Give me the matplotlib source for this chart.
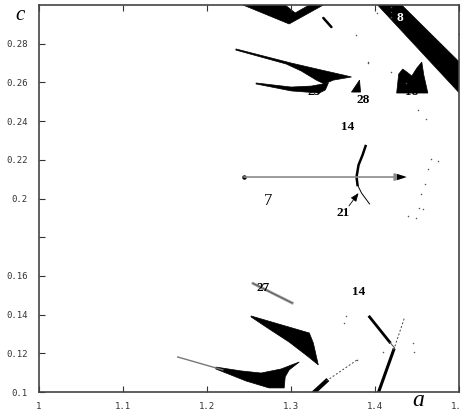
import matplotlib
matplotlib.use("Agg")
import matplotlib.pyplot as plt
from matplotlib.patches import Polygon

# ---- parameter-plane regions (a, c) ----
top_cusp = [(1.2428, 0.3000), (1.2978, 0.2902), (1.3086, 0.2928), (1.3385, 0.3000),
            (1.3218, 0.3000), (1.3050, 0.2959), (1.2931, 0.3000)]
long_wedge = [(1.2344, 0.2773), (1.3002, 0.2700), (1.3361, 0.2664), (1.3624, 0.2638),
              (1.3720, 0.2628), (1.3505, 0.2612), (1.3397, 0.2592), (1.3301, 0.2612),
              (1.3122, 0.2659), (1.2943, 0.2695), (1.2344, 0.2767)]
wedge_25 = [(1.2584, 0.2597), (1.3002, 0.2576), (1.3242, 0.2581), (1.3445, 0.2597),
            (1.3409, 0.2561), (1.3337, 0.2545), (1.3002, 0.2556), (1.2584, 0.2592)]
tri_28 = [(1.3720, 0.2550), (1.3816, 0.2612), (1.3828, 0.2550)]
band_8 = [(1.4031, 0.3000), (1.4318, 0.3000), (1.5000, 0.2707), (1.5000, 0.2547)]
region_18 = [(1.4258, 0.2545), (1.4282, 0.2643), (1.4330, 0.2669), (1.4378, 0.2654),
             (1.4438, 0.2633), (1.4498, 0.2674), (1.4557, 0.2705), (1.4581, 0.2638),
             (1.4629, 0.2545)]
wedge_low1 = [(1.2524, 0.1393), (1.3218, 0.1305), (1.3266, 0.1253), (1.3325, 0.1140),
              (1.3194, 0.1186), (1.2978, 0.1258), (1.2703, 0.1336), (1.2524, 0.1388)]
wedge_low2 = [(1.2105, 0.1129), (1.2404, 0.1109), (1.2644, 0.1098), (1.2883, 0.1119),
              (1.3098, 0.1155), (1.2978, 0.1114), (1.2931, 0.1078), (1.2919, 0.1021),
              (1.2739, 0.1021), (1.2464, 0.1057), (1.2105, 0.1119)]

# thin curves / line segments
dash_top_a, dash_top_c = [1.3385, 1.3481], [0.2933, 0.2886]
tail_low2_a, tail_low2_c = [1.1651, 1.2189], [0.1181, 0.1114]
streak_27_a, streak_27_c = [1.2548, 1.3014], [0.1561, 0.1460]
curve21_thick_a = [1.3888, 1.3852, 1.3804, 1.3780, 1.3792]
curve21_thick_c = [0.2271, 0.2225, 0.2173, 0.2111, 0.2070]
curve21_thin_a = [1.3792, 1.3840, 1.3935]
curve21_thin_c = [0.2070, 0.2028, 0.1972]
diag1_a, diag1_c = [1.3278, 1.3421], [0.1000, 0.1057]
diag1_dot_a, diag1_dot_c = [1.3421, 1.3804], [0.1057, 0.1171]
diag2_a, diag2_c = [1.4043, 1.4222], [0.1000, 0.1217]
diag2_dot_a, diag2_dot_c = [1.4222, 1.4354], [0.1217, 0.1388]
diag3_a, diag3_c = [1.3935, 1.4175], [0.1388, 0.1258]
diag3_thin_a, diag3_thin_c = [1.4175, 1.4234], [0.1258, 0.1227]

# isolated points
dots_a = [1.4186, 1.4186, 1.4186, 1.5000, 1.4019, 1.3768, 1.3911, 1.4187, 1.4366,
          1.3911, 1.4510, 1.4605, 1.4665, 1.4629, 1.4593, 1.4546, 1.4522, 1.4570,
          1.4749, 1.4390, 1.4486, 1.3660, 1.3625, 1.4091, 1.3780, 1.4450, 1.4462]
dots_c = [0.2990, 0.2964, 0.2938, 0.2850, 0.2959, 0.2845, 0.2700, 0.2654, 0.2597,
          0.2705, 0.2457, 0.2411, 0.2204, 0.2152, 0.2075, 0.2024, 0.1952, 0.1946,
          0.2196, 0.1910, 0.1899, 0.1393, 0.1357, 0.1207, 0.1165, 0.1253, 0.1207]

# arrow across the plane
arrow_a, arrow_c = [1.2440, 1.4378], [0.2111, 0.2111]

# region labels: (text, a, c, bold, colour)
labels = [("8", 1.4294, 0.2933, True, "white"),
          ("25", 1.3278, 0.2552, True, "black"),
          ("28", 1.3864, 0.2509, True, "black"),
          ("18", 1.4438, 0.2552, True, "black"),
          ("14", 1.3672, 0.2370, True, "black"),
          ("21", 1.3624, 0.1925, True, "black"),
          ("27", 1.2667, 0.1540, True, "black"),
          ("14", 1.3804, 0.1517, True, "black")]
label_7 = ("7", 1.2727, 0.1985)

x_ticks = [1.0, 1.1, 1.2, 1.3, 1.4, 1.5]
x_ticklabels = ["1", "1.1", "1.2", "1.3", "1.4", "1.5"]
y_ticks = [0.10, 0.12, 0.14, 0.16, 0.18, 0.20, 0.22, 0.24, 0.26, 0.28]
y_ticklabels = ["0.1", "0.12", "0.14", "0.16", "", "0.2", "0.22", "0.24", "0.26", "0.28"]

fig = plt.figure(figsize=(4.61, 4.13), dpi=100)
ax = fig.add_axes([39 / 461, 1 - 392 / 413, 420 / 461, 387 / 413])
ax.set_xlim(1.0, 1.5)
ax.set_ylim(0.1, 0.3)

for poly in [top_cusp, long_wedge, wedge_25, tri_28, band_8, region_18, wedge_low1, wedge_low2]:
    ax.add_patch(Polygon(poly, closed=True, facecolor="black", edgecolor="black", lw=0.5))

ax.plot(dash_top_a, dash_top_c, color="black", lw=1.8, solid_capstyle="round")
ax.plot(tail_low2_a, tail_low2_c, color="#777777", lw=1.0)
ax.plot(streak_27_a, streak_27_c, color="#999999", lw=2.0)
ax.plot(streak_27_a, streak_27_c, color="#555555", lw=0.6)
ax.plot(curve21_thick_a, curve21_thick_c, color="black", lw=1.8)
ax.plot(curve21_thin_a, curve21_thin_c, color="black", lw=0.7)
ax.plot(diag1_a, diag1_c, color="black", lw=3.0)
ax.plot(diag1_dot_a, diag1_dot_c, color="#444444", lw=0.7, ls=(0, (2, 2)))
ax.plot(diag2_a, diag2_c, color="black", lw=2.2)
ax.plot(diag2_dot_a, diag2_dot_c, color="#444444", lw=0.7, ls=(0, (2, 2)))
ax.plot(diag3_a, diag3_c, color="black", lw=2.0)
ax.plot(diag3_thin_a, diag3_thin_c, color="#444444", lw=0.7)
ax.scatter(dots_a, dots_c, s=1.2, color="#555555", linewidths=0, clip_on=True)

# grey arrow with a black head and a dot at its start
ax.annotate("", xy=(arrow_a[1], arrow_c[1]), xytext=(arrow_a[0], arrow_c[0]),
            arrowprops=dict(arrowstyle="-|>,head_length=0.7,head_width=0.22",
                            color="#8a8a8a", lw=1.2, shrinkA=0, shrinkB=0))
ax.annotate("", xy=(arrow_a[1], arrow_c[1]), xytext=(arrow_a[1] - 0.008, arrow_c[1]),
            arrowprops=dict(arrowstyle="-|>,head_length=0.7,head_width=0.22",
                            color="black", lw=0, shrinkA=0, shrinkB=0))
ax.plot(arrow_a[0], arrow_c[0], "o", color="black", ms=2.2)

# pointer to the 21 curve
ax.annotate("", xy=(1.3804, 0.2028), xytext=(1.3690, 0.1962),
            arrowprops=dict(arrowstyle="-|>,head_length=0.5,head_width=0.2",
                            color="black", lw=0.6, shrinkA=0, shrinkB=0))

serif = ["Liberation Serif", "DejaVu Serif"]
for txt, a, c, bold, col in labels:
    ax.text(a, c, txt, family=serif, fontsize=9.5, fontweight="bold" if bold else "normal",
            color=col, ha="center", va="center")
ax.text(label_7[1], label_7[2], label_7[0], family=serif, fontsize=12,
        ha="center", va="center")

# axes styling
ax.set_xticks(x_ticks)
ax.set_xticklabels(x_ticklabels)
ax.set_yticks(y_ticks)
ax.set_yticklabels(y_ticklabels)
ax.tick_params(direction="in", length=4, width=0.8, color="#333333",
               labelsize=6.5, labelcolor="#333333", top=True, right=False)
ax.tick_params(axis="x", pad=7)
ax.tick_params(axis="y", pad=8)
for lab in ax.get_xticklabels() + ax.get_yticklabels():
    lab.set_family("DejaVu Sans Mono")
for sp in ax.spines.values():
    sp.set_color("#444444")
    sp.set_linewidth(1.2)

fig.text(20 / 461, 1 - 16 / 413, "c", family=serif, style="italic", fontsize=15,
         ha="center", va="center")
fig.text(418 / 461, 1 - 401 / 413, "a", family=serif, style="italic", fontsize=17,
         ha="center", va="center")

fig.savefig("out.png", dpi=100)
